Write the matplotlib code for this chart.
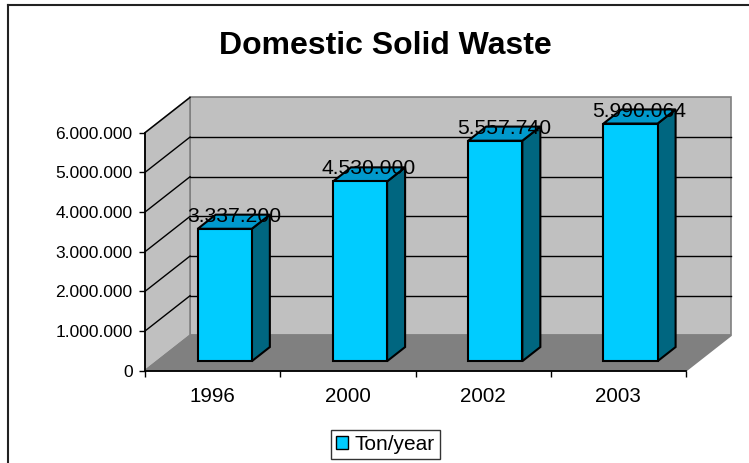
import matplotlib
matplotlib.use("Agg")
import matplotlib.pyplot as plt
from matplotlib.patches import Polygon, Patch
from matplotlib.lines import Line2D
from matplotlib.ticker import FuncFormatter, FixedLocator

plt.rcParams["font.family"] = ["Liberation Sans", "DejaVu Sans"]

# Data
years = ["1996", "2000", "2002", "2003"]
tons = [3337200, 4530000, 5557740, 5990064]
series_name = "Ton/year"
title = "Domestic Solid Waste"
y_ticks = [0, 1000000, 2000000, 3000000, 4000000, 5000000, 6000000]

# Colours
FRONT = "#00CCFF"
SIDE = "#006680"
TOP = "#0099CC"
WALL = "#C0C0C0"
FLOOR = "#808080"
EDGE = "#808080"

# Oblique projection: depth d in [0, 1] shifts points right (categories) and up (values)
DX = 0.333
DY = 0.89e6
D0, D1 = 0.27, 0.67      # bar front / back depth
BAR_W = 0.40
YMAX = y_ticks[-1]


def proj(x, v, d):
    return (x + d * DX, v + d * DY)


W, H = 749, 463
fig = plt.figure(figsize=(W / 100, H / 100), dpi=100)
fig.patch.set_facecolor("white")

ax = fig.add_axes([145 / W, (H - 370.7) / H, 541 / W, 238 / H])
ax.patch.set_visible(False)
n = len(years)
x_lo, x_hi = -0.5, n - 0.5
ax.set_xlim(x_lo, x_hi)
ax.set_ylim(0, YMAX)

# Back wall, side wall, floor
back = [proj(x_lo, 0, 1), proj(x_hi, 0, 1), proj(x_hi, YMAX, 1), proj(x_lo, YMAX, 1)]
side = [proj(x_lo, 0, 0), proj(x_lo, 0, 1), proj(x_lo, YMAX, 1), proj(x_lo, YMAX, 0)]
floor = [proj(x_lo, 0, 0), proj(x_hi, 0, 0), proj(x_hi, 0, 1), proj(x_lo, 0, 1)]
for pts, col in [(back, WALL), (side, WALL), (floor, FLOOR)]:
    ax.add_patch(Polygon(pts, closed=True, facecolor=col, edgecolor=EDGE,
                         linewidth=1.2, clip_on=False, zorder=1))

# Gridlines on the walls
for v in y_ticks[1:]:
    a, b, c = proj(x_lo, v, 0), proj(x_lo, v, 1), proj(x_hi, v, 1)
    ax.plot([a[0], b[0]], [a[1], b[1]], color="black", lw=1, clip_on=False, zorder=1.5)
    if v < YMAX:
        ax.plot([b[0], c[0]], [b[1], c[1]], color="black", lw=1, clip_on=False, zorder=1.5)


def fmt(v):
    return f"{int(v):,}".replace(",", ".")


# Bars
for i, v in enumerate(tons):
    x0, x1 = i - BAR_W / 2, i + BAR_W / 2
    front = [proj(x0, 0, D0), proj(x1, 0, D0), proj(x1, v, D0), proj(x0, v, D0)]
    right = [proj(x1, 0, D0), proj(x1, 0, D1), proj(x1, v, D1), proj(x1, v, D0)]
    top = [proj(x0, v, D0), proj(x1, v, D0), proj(x1, v, D1), proj(x0, v, D1)]
    for pts, col in [(right, SIDE), (top, TOP), (front, FRONT)]:
        ax.add_patch(Polygon(pts, closed=True, facecolor=col, edgecolor="black",
                             linewidth=1.5, joinstyle="miter", clip_on=False, zorder=3))
    lx, ly = proj(i, v, (D0 + D1) / 2)
    ax.text(lx, ly, fmt(v), ha="center", va="baseline", fontsize=15.2,
            color="black", zorder=4, clip_on=False)

# Axes styling
for s in ["top", "right"]:
    ax.spines[s].set_visible(False)
for s in ["left", "bottom"]:
    ax.spines[s].set_color("black")
    ax.spines[s].set_linewidth(1.3)

ax.yaxis.set_major_locator(FixedLocator(y_ticks))
ax.yaxis.set_major_formatter(FuncFormatter(lambda v, p: fmt(v)))
ax.tick_params(axis="y", direction="out", length=4, width=1, pad=5, labelsize=12.5)

ax.set_xticks(range(n))
ax.set_xticklabels(years)
ax.set_xticks([k - 0.5 for k in range(n + 1)], minor=True)
ax.tick_params(axis="x", which="major", length=0, pad=12, labelsize=14.8)
ax.tick_params(axis="x", which="minor", direction="out", length=4, width=1)

# Title
fig.text(385 / W, 1 - 54 / H, title, ha="center", va="baseline",
         fontsize=23, fontweight="bold")

# Legend
handle = Patch(facecolor=FRONT, edgecolor="black", linewidth=1)
leg = fig.legend([handle], [series_name], loc="center",
                 bbox_to_anchor=(385.3 / W, 1 - 444.7 / H),
                 fontsize=15, frameon=True, fancybox=False,
                 handlelength=0.6, handleheight=0.6, handletextpad=0.3,
                 borderpad=0.25, borderaxespad=0)
leg.get_frame().set_edgecolor("black")
leg.get_frame().set_linewidth(1)

# Chart area border (top and left edges)
fig.add_artist(Line2D([7.5 / W, 1], [1 - 5 / H, 1 - 5 / H], color="#222222", lw=1.5))
fig.add_artist(Line2D([7.5 / W, 7.5 / W], [0, 1 - 5 / H], color="#222222", lw=1.5))

fig.savefig("out.png", dpi=100)
